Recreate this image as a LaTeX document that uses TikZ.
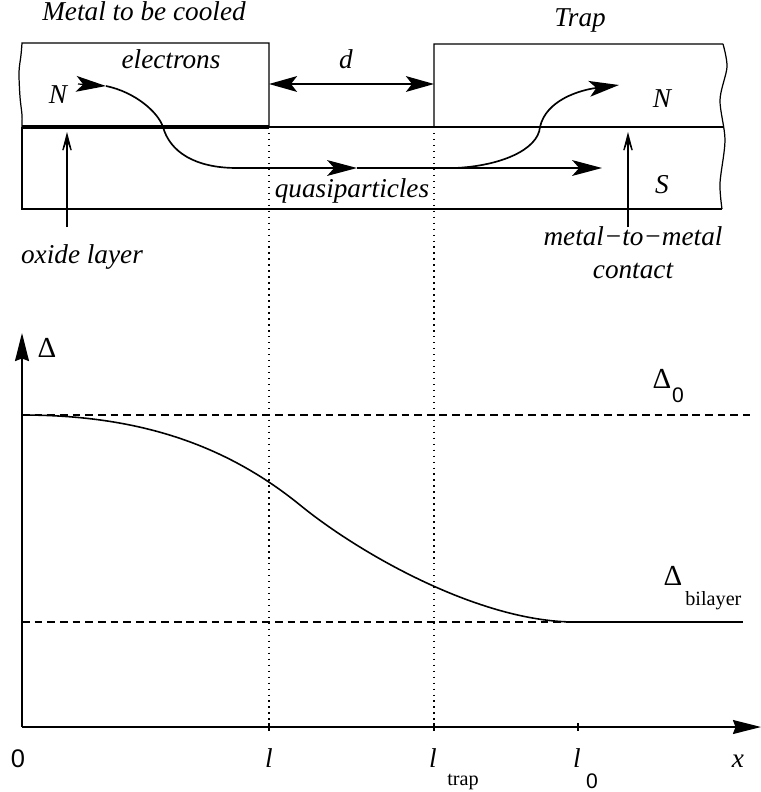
\documentclass[tikz,border=0pt]{standalone}
\usepackage{fontspec}
\setmainfont{Liberation Serif}
\newfontfamily\digitfont{Liberation Sans}
\usetikzlibrary{arrows.meta}
\tikzset{
  txt/.style={inner sep=0pt, anchor=base, font=\fontsize{15.5}{18}\selectfont\itshape},
  subtxt/.style={inner sep=0pt, anchor=base, font=\fontsize{11.5}{13}\selectfont},
  dtxt/.style={inner sep=0pt, anchor=base, font=\fontsize{16.5}{18}\selectfont},
  ztxt/.style={inner sep=0pt, anchor=base, font=\fontsize{12}{14}\selectfont\digitfont},
  earr/.style={-{Stealth[length=17pt,width=9pt,inset=4pt]}},
  darr/.style={{Stealth[length=16pt,width=9pt,inset=3.5pt]}-{Stealth[length=16pt,width=9pt,inset=3.5pt]}},
  axarr/.style={-{Stealth[length=16pt,width=8pt,inset=1.5pt]}},
  thinarr/.style={-{Stealth[length=17pt,width=9pt,inset=12pt]}},
  edge/.style={line width=0.7pt},
  dotline/.style={line width=0.8pt, dash pattern=on 0.8pt off 2.6pt},
  dashline/.style={line width=0.7pt, dash pattern=on 4.4pt off 2.8pt}
}
\begin{document}
\begin{tikzpicture}[x=0.02cm,y=-0.02cm]
\useasboundingbox (0,0) rectangle (761,792);
\coordinate (mTL) at (22,43);
\coordinate (mTR) at (269,43);
\coordinate (mBR) at (269,127);
\coordinate (mBL) at (22,127);
\coordinate (sBL) at (22,209);
\coordinate (sBR) at (722,209);
\coordinate (tTL) at (434,44);
\coordinate (tBL) at (434,127);
\coordinate (tTR) at (723,44);
\coordinate (tBR) at (723,127);
\coordinate (dL) at (269,84);
\coordinate (dR) at (434,84);
\coordinate (eA) at (78,84);
\coordinate (eB) at (106,86);
\coordinate (eC) at (163,127);
\coordinate (qA) at (237,168);
\coordinate (qM) at (357,168);
\coordinate (qS) at (455,168);
\coordinate (qE) at (602,168);
\coordinate (tC) at (540,127);
\coordinate (tE) at (619,85);
\coordinate (ox0) at (67,227);
\coordinate (ox1) at (67,132);
\coordinate (mm0) at (628,227);
\coordinate (mm1) at (628,132);
\coordinate (O) at (22,727);
\coordinate (yE) at (22,333);
\coordinate (xE) at (761,727);
\coordinate (d0L) at (22,415);
\coordinate (d0R) at (750,415);
\coordinate (dbL) at (22,622);
\coordinate (dbM) at (575,622);
\coordinate (dbR) at (743,622);
\coordinate (bend) at (300,505);

\draw[edge] plot[smooth] coordinates {(mBL) (22,115) (20,97) (19,72) (21,55) (mTL)} -- (mTR) -- (mBR);
\draw[line width=1.8pt] (mBL) -- (mBR);
\draw[edge] (mBR) -- (tBR);
\draw[edge] (mBL) -- (sBL) -- (sBR);
\draw[edge] (tBL) -- (tTL) -- (tTR) plot[smooth] coordinates {(tTR) (727,67) (720,100) (725,140) (720,183) (sBR)};
\draw[edge, darr] (dL) -- (dR);
\draw[edge, earr] (eA) -- (eB);
\draw[line width=0.95pt] (eB) .. controls (135,92) and (158,112) .. (eC) .. controls (170,152) and (195,168) .. (qA);
\draw[edge, earr] (qA) -- (qM);
\draw[edge, earr] (qM) -- (qE);
\draw[line width=0.95pt, earr] (qS) .. controls (500,166) and (538,150) .. (tC) .. controls (546,100) and (580,90) .. (tE);
\draw[edge, thinarr] (ox0) -- (ox1);
\draw[edge, thinarr] (mm0) -- (mm1);

\draw[dotline] (mBR) -- (269,727);
\draw[dotline] (tBL) -- (434,727);
\draw[edge, axarr] (O) -- (yE);
\draw[edge, axarr] (O) -- (xE);
\foreach \t in {269,434,578} \draw[edge] (\t,723) -- (\t,731);
\draw[dashline] (d0L) -- (d0R);
\draw[dashline] (dbL) -- (dbM);
\draw[edge] (dbM) -- (dbR);
\draw[line width=0.9pt] (d0L) .. controls (130,415) and (220,440) .. (bend) .. controls (360,554) and (480,622) .. (dbM);

\node[txt] (metal) at (144,20) {Metal to be cooled};
\node[txt] (trap) at (580,26) {Trap};
\node[txt] (elec) at (171,68) {electrons};
\node[txt] (dlbl) at (346,68) {d};
\node[txt] (nleft) at (58,103) {N};
\node[txt] (nright) at (662,107) {N};
\node[txt] (slbl) at (662,193) {S};
\node[txt] (quasi) at (352,197) {quasiparticles};
\node[txt] (oxide) at (82,263) {oxide layer};
\node[txt] (mm) at (633,245) {metal−to−metal};
\node[txt] (contact) at (633,278) {contact};

\node[dtxt] (dax) at (47,357) {Δ};
\node[dtxt] (dnull) at (662,388) {Δ};
\node[ztxt] (dnullsub) at (678,402) {0};
\node[dtxt] (dbil) at (673,585) {Δ};
\node[subtxt, anchor=base west] (dbilsub) at (685,605) {bilayer};
\node[ztxt, font=\fontsize{14.5}{16}\selectfont\digitfont] (zero) at (18,767) {0};
\node[txt] (lmark) at (269,767) {l};
\node[txt] (ltrap) at (433,767) {l};
\node[subtxt] (trapsub) at (463,785) {trap};
\node[txt] (lnull) at (577,767) {l};
\node[ztxt] (nullsub) at (592,788) {0};
\node[txt] (xlbl) at (738,767) {x};
\end{tikzpicture}
\end{document}
